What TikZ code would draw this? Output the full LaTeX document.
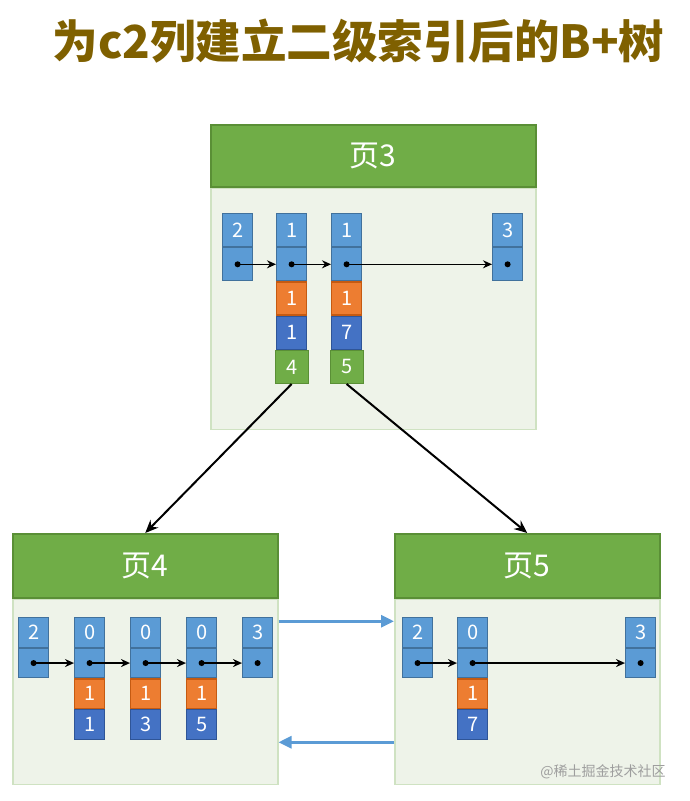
\documentclass[tikz,border=0pt]{standalone}
\usepackage{fontspec}
\setmainfont{Noto Sans CJK SC}
\usepackage{xcolor}
\usetikzlibrary{positioning,arrows.meta}
\definecolor{titlegold}{HTML}{7F6000}
\definecolor{headgreen}{HTML}{70AD47}
\definecolor{headedge}{HTML}{5A8F36}
\definecolor{bodyfill}{HTML}{EEF3E9}
\definecolor{bodyedge}{HTML}{CFE2C2}
\definecolor{recblue}{HTML}{5B9BD5}
\definecolor{recedge}{HTML}{41719C}
\definecolor{c2orange}{HTML}{ED7D31}
\definecolor{c2edge}{HTML}{C55A11}
\definecolor{iddark}{HTML}{4472C4}
\definecolor{idedge}{HTML}{2F5597}
\definecolor{linkblue}{HTML}{5B9BD5}
\tikzset{
    page-head/.style = {draw=headedge, fill=headgreen, text=white, rectangle, anchor=north west, inner sep=0pt, line width=1.5pt, font=\fontsize{30}{30}\selectfont},
    page-body/.style = {draw=bodyedge, fill=bodyfill, rectangle, inner sep=0pt, line width=1.5pt},
    cell/.style = {rectangle, minimum width=30pt, inner sep=0pt, text=white, line width=1.2pt, font=\fontsize{20}{20}\selectfont},
    rec-cell/.style = {cell, draw=recedge, fill=recblue},
    c2-cell/.style = {cell, draw=c2edge, fill=c2orange},
    id-cell/.style = {cell, draw=idedge, fill=iddark},
    page-cell/.style = {cell, draw=headedge, fill=headgreen, minimum width=33pt},
    ptr/.style = {black, line width=1.3pt, -{Stealth[length=9pt,width=8pt]}},
    tree-arrow/.style = {black, line width=2pt, -{Stealth[length=13pt,width=11pt]}},
    sibling-arrow/.style = {linkblue, line width=3pt, -{Triangle[length=13pt,width=12pt]}},
}

\begin{document}
\begin{tikzpicture}[x=1pt, y=-1pt]
\useasboundingbox (0,0) rectangle (690,801);

\node[text=titlegold, font=\fontsize{45.5}{45.5}\selectfont\bfseries] (title) at (358.5,41) {为c2列建立二级索引后的B+树};

% page 3
\node[page-head, minimum width=325pt, minimum height=62pt] (p3head) at (210,124) {页3};
\node[page-body, minimum width=325pt, minimum height=241pt, below=0pt of p3head] (p3body) {};
\begin{scope}[every node/.append style={minimum height=33pt}]
\node[rec-cell, anchor=north west] (p3r1a) at (222,213) {2};
\node[rec-cell, below=0pt of p3r1a] (p3r1b) {};
\node[rec-cell, anchor=north west] (p3r2a) at (276,213) {1};
\node[rec-cell, below=0pt of p3r2a] (p3r2b) {};
\node[c2-cell, below=0pt of p3r2b] (p3r2c) {1};
\node[id-cell, below=0pt of p3r2c] (p3r2d) {1};
\node[page-cell, below=0pt of p3r2d] (p3r2e) {4};
\node[rec-cell, anchor=north west] (p3r3a) at (331,213) {1};
\node[rec-cell, below=0pt of p3r3a] (p3r3b) {};
\node[c2-cell, below=0pt of p3r3b] (p3r3c) {1};
\node[id-cell, below=0pt of p3r3c] (p3r3d) {7};
\node[page-cell, below=0pt of p3r3d] (p3r3e) {5};
\node[rec-cell, anchor=north west] (p3r4a) at (492,213) {3};
\node[rec-cell, below=0pt of p3r4a] (p3r4b) {};
\end{scope}
\foreach \n in {p3r1b,p3r2b,p3r3b,p3r4b} \fill (\n) circle (3pt);
\draw[ptr] (p3r1b.center) -- (p3r2b.west);
\draw[ptr] (p3r2b.center) -- (p3r3b.west);
\draw[ptr] (p3r3b.center) -- (p3r4b.west);

% page 4
\node[page-head, minimum width=265pt, minimum height=64pt] (p4head) at (12,533) {页4};
\node[page-body, minimum width=265pt, minimum height=185pt, below=0pt of p4head] (p4body) {};
\begin{scope}[every node/.append style={minimum height=29.5pt, minimum width=31pt}]
\node[rec-cell, anchor=north west] (p4r1a) at (18,617) {2};
\node[rec-cell, below=0pt of p4r1a] (p4r1b) {};
\node[rec-cell, anchor=north west] (p4r2a) at (74,617) {0};
\node[rec-cell, below=0pt of p4r2a] (p4r2b) {};
\node[c2-cell, below=0pt of p4r2b] (p4r2c) {1};
\node[id-cell, below=0pt of p4r2c] (p4r2d) {1};
\node[rec-cell, anchor=north west] (p4r3a) at (130,617) {0};
\node[rec-cell, below=0pt of p4r3a] (p4r3b) {};
\node[c2-cell, below=0pt of p4r3b] (p4r3c) {1};
\node[id-cell, below=0pt of p4r3c] (p4r3d) {3};
\node[rec-cell, anchor=north west] (p4r4a) at (186,617) {0};
\node[rec-cell, below=0pt of p4r4a] (p4r4b) {};
\node[c2-cell, below=0pt of p4r4b] (p4r4c) {1};
\node[id-cell, below=0pt of p4r4c] (p4r4d) {5};
\node[rec-cell, anchor=north west] (p4r5a) at (242,617) {3};
\node[rec-cell, below=0pt of p4r5a] (p4r5b) {};
\end{scope}
\foreach \n in {p4r1b,p4r2b,p4r3b,p4r4b,p4r5b} \fill (\n) circle (3pt);
\draw[ptr] (p4r1b.center) -- (p4r2b.west);
\draw[ptr] (p4r2b.center) -- (p4r3b.west);
\draw[ptr] (p4r3b.center) -- (p4r4b.west);
\draw[ptr] (p4r4b.center) -- (p4r5b.west);

% page 5
\node[page-head, minimum width=265pt, minimum height=64pt] (p5head) at (394,533) {页5};
\node[page-body, minimum width=265pt, minimum height=185pt, below=0pt of p5head] (p5body) {};
\begin{scope}[every node/.append style={minimum height=29.5pt}]
\node[rec-cell, anchor=north west] (p5r1a) at (402,617) {2};
\node[rec-cell, below=0pt of p5r1a] (p5r1b) {};
\node[rec-cell, anchor=north west] (p5r2a) at (457,617) {0};
\node[rec-cell, below=0pt of p5r2a] (p5r2b) {};
\node[c2-cell, below=0pt of p5r2b] (p5r2c) {1};
\node[id-cell, below=0pt of p5r2c] (p5r2d) {7};
\node[rec-cell, anchor=north west] (p5r3a) at (625,617) {3};
\node[rec-cell, below=0pt of p5r3a] (p5r3b) {};
\end{scope}
\foreach \n in {p5r1b,p5r2b,p5r3b} \fill (\n) circle (3pt);
\draw[ptr] (p5r1b.center) -- (p5r2b.west);
\draw[ptr] (p5r2b.center) -- (p5r3b.west);

% links between pages
\draw[tree-arrow] (p3r2e.south) -- (p4head.north);
\draw[tree-arrow] (p3r3e.south) -- (p5head.north);
\draw[sibling-arrow] ([yshift=70.5pt]p4body.east) -- ([yshift=70.5pt]p5body.west);
\draw[sibling-arrow] ([yshift=-50.5pt]p5body.west) -- ([yshift=-50.5pt]p4body.east);

\node[text=black!38, font=\fontsize{14}{14}\selectfont] (mark) at (603,772) {@稀土掘金技术社区};
\end{tikzpicture}
\end{document}
